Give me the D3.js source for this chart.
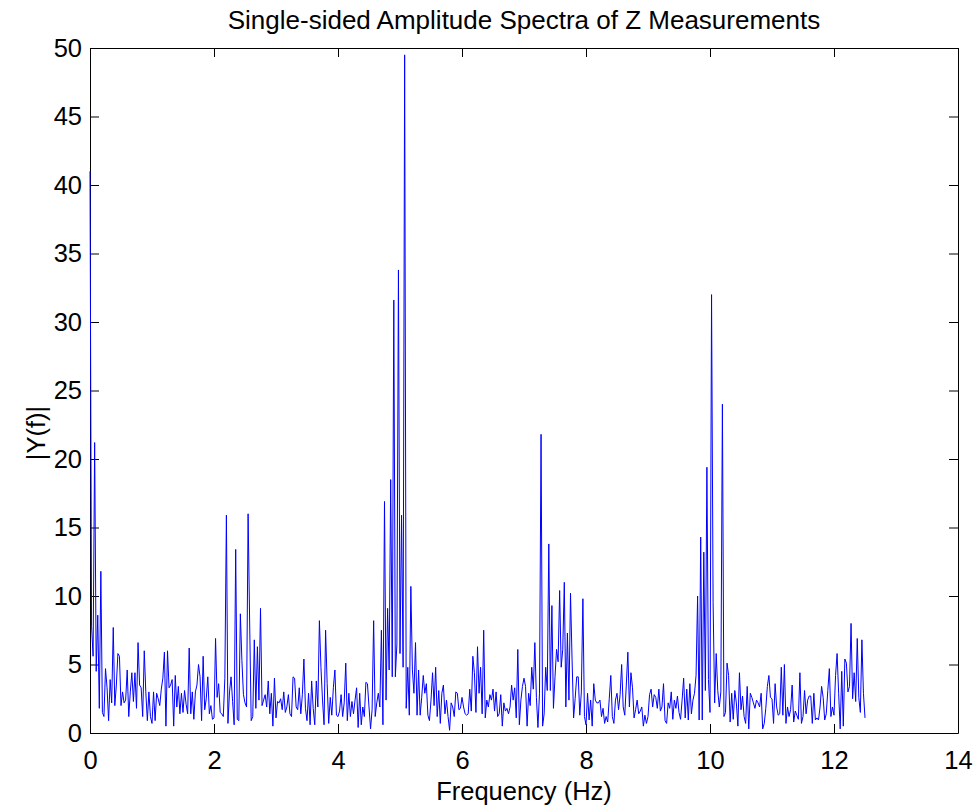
<!DOCTYPE html>
<head>
	<title>Single-sided Amplitude Spectra</title>
	<meta charset="utf-8"/>
	<style>
		body { margin: 0; background: #ffffff; }
		text { font-family: "Liberation Sans", Arial, sans-serif; fill: #000000; }
	</style>
</head>
<body>
<div id="my_dataviz"></div>

<script src="https://d3js.org/d3.v7.min.js"></script>
<script>
    // frequency resolution of the spectrum (Hz per bin)
    var freqStep = 0.025;

    // |Y(f)|, one row per Hz
    var amplitude = [
        41.0, 7.8, 5.6, 21.2, 4.5, 8.6, 1.8, 11.8, 1.5, 1.2, 4.7, 3.3, 0.9, 3.9, 2.2, 7.7, 2.0, 3.5, 5.8, 5.6,
        2.0, 3.0, 2.2, 2.4, 4.6, 1.2, 3.0, 4.4, 2.3, 4.4, 1.8, 6.6, 3.5, 3.3, 1.2, 6.0, 3.0, 0.9, 3.0, 1.2,
        0.7, 3.0, 0.9, 2.9, 2.5, 2.0, 3.2, 4.0, 5.9, 0.5, 6.0, 3.3, 3.5, 3.9, 0.5, 4.2, 1.9, 3.4, 1.4, 2.9,
        1.5, 3.1, 2.1, 1.4, 6.2, 1.4, 3.0, 1.0, 3.0, 3.5, 5.0, 4.1, 0.9, 5.6, 1.7, 2.5, 4.1, 1.4, 2.0, 1.0,
        1.1, 6.9, 2.6, 3.6, 1.5, 1.4, 1.2, 4.0, 15.9, 0.7, 3.0, 4.1, 2.3, 0.6, 13.4, 1.0, 0.9, 8.7, 5.3, 2.8,
        2.2, 1.9, 16.0, 8.1, 0.9, 1.2, 6.8, 1.8, 6.3, 2.4, 9.1, 2.0, 2.4, 2.8, 1.9, 3.8, 1.4, 2.9, 0.5, 4.0,
        1.1, 2.3, 2.2, 2.5, 1.7, 3.0, 1.5, 1.9, 2.8, 1.4, 1.2, 4.1, 4.0, 1.9, 1.7, 3.3, 1.4, 2.8, 5.4, 1.8,
        0.9, 2.9, 0.6, 3.8, 1.8, 0.6, 3.8, 1.9, 8.2, 4.8, 2.4, 0.6, 7.5, 3.6, 0.7, 2.6, 1.3, 3.3, 4.6, 1.3,
        1.2, 1.6, 2.8, 1.2, 2.2, 5.1, 0.9, 2.9, 1.2, 2.3, 1.4, 2.4, 3.3, 0.4, 2.9, 0.6, 1.9, 1.2, 3.7, 3.6,
        1.9, 0.3, 1.7, 8.2, 1.2, 2.2, 2.9, 1.9, 7.5, 0.6, 16.9, 2.4, 9.1, 4.6, 18.5, 4.1, 31.6, 4.1, 6.5, 33.8,
        5.8, 15.9, 4.8, 49.5, 1.8, 4.8, 1.3, 10.7, 4.6, 2.9, 6.6, 1.3, 4.6, 1.3, 2.6, 4.2, 2.9, 3.6, 1.3, 0.9,
        2.4, 4.4, 2.0, 4.8, 1.2, 3.1, 0.7, 2.9, 3.5, 1.4, 2.4, 1.2, 0.2, 2.2, 1.9, 1.2, 3.0, 2.9, 1.7, 1.8,
        2.6, 1.9, 1.4, 1.3, 1.4, 3.2, 1.6, 5.6, 4.4, 1.5, 6.3, 2.9, 4.8, 1.4, 7.5, 1.1, 2.4, 1.9, 2.8, 2.4,
        3.2, 1.6, 3.0, 1.2, 1.4, 2.8, 0.5, 2.2, 1.6, 1.8, 1.4, 1.9, 3.5, 2.4, 3.3, 1.1, 6.1, 0.6, 2.4, 3.4,
        4.0, 3.4, 0.5, 2.9, 2.0, 4.8, 3.2, 6.6, 2.6, 0.4, 2.9, 21.8, 0.5, 1.4, 4.8, 3.1, 13.8, 3.1, 9.3, 1.8,
        4.1, 6.1, 5.2, 10.4, 4.8, 6.1, 11.0, 1.9, 7.3, 2.4, 10.2, 5.4, 1.1, 2.5, 4.1, 4.1, 1.3, 3.0, 9.8, 1.2,
        0.6, 2.9, 0.95, 2.4, 0.5, 3.6, 2.4, 2.2, 2.2, 2.4, 1.2, 1.8, 0.7, 1.2, 0.8, 2.5, 4.2, 1.2, 0.7, 2.4,
        2.9, 1.7, 2.8, 5.0, 1.9, 1.3, 3.5, 5.9, 1.9, 4.4, 3.3, 1.1, 1.7, 2.4, 1.4, 1.6, 1.9, 0.5, 1.3, 0.7,
        1.2, 2.8, 3.2, 1.9, 2.8, 2.6, 1.8, 3.2, 1.6, 1.9, 3.6, 0.9, 0.7, 2.2, 1.8, 3.0, 1.0, 2.4, 1.8, 2.7,
        1.5, 1.0, 2.4, 4.0, 1.1, 3.2, 0.95, 3.6, 1.4, 2.4, 2.9, 4.2, 10.0, 0.95, 14.3, 0.95, 13.2, 3.1, 19.4, 3.9,
        1.5, 32.0, 9.5, 2.2, 5.8, 3.1, 1.9, 3.0, 24.0, 1.2, 1.5, 5.1, 4.2, 0.8, 2.9, 1.0, 3.1, 2.2, 0.5, 4.4,
        1.7, 2.7, 1.2, 0.7, 3.4, 0.3, 2.9, 2.6, 2.2, 1.8, 2.4, 2.2, 1.9, 2.9, 0.3, 0.7, 1.8, 3.4, 4.2, 2.6,
        2.5, 0.7, 3.6, 1.9, 1.3, 1.4, 4.8, 1.3, 5.0, 0.7, 1.9, 1.2, 1.7, 3.5, 0.8, 1.6, 1.3, 1.0, 4.4, 0.7,
        1.2, 3.1, 1.4, 2.4, 2.7, 2.7, 0.7, 2.9, 0.95, 1.1, 0.95, 1.9, 3.4, 2.6, 0.95, 1.4, 3.1, 4.7, 1.2, 1.9,
        1.3, 4.2, 5.8, 2.9, 0.3, 4.5, 0.5, 5.4, 5.1, 3.0, 3.4, 8.0, 2.5, 4.4, 2.3, 6.9, 2.6, 1.5, 6.8, 2.9,
        1.1
    ];

    var xTicks = [0, 2, 4, 6, 8, 10, 12, 14];
    var yTicks = [0, 5, 10, 15, 20, 25, 30, 35, 40, 45, 50];

    var titleText = "Single-sided Amplitude Spectra of Z Measurements";
    var xLabel = "Frequency (Hz)";
    var yLabel = "|Y(f)|";

    var margin = {top: 48, right: 19, bottom: 79, left: 90},
        width = 977 - margin.left - margin.right,
        height = 812 - margin.top - margin.bottom;

    var fontSize = "25.5px";

    var root = d3.select("#my_dataviz")
        .append("svg")
        .attr("width", 977)
        .attr("height", 812);

    root.append("rect")
        .attr("width", 977)
        .attr("height", 812)
        .attr("fill", "#ffffff");

    var svg = root.append("g")
        .attr("transform", "translate(" + margin.left + "," + margin.top + ")");

    var x = d3.scaleLinear()
        .domain([0, 14])
        .range([0, width]);

    var y = d3.scaleLinear()
        .domain([0, 50])
        .range([height, 0]);

    // axes, ticks pointing inward on all four sides
    var tickLen = 9;

    svg.append("g")
        .attr("transform", "translate(0," + height + ")")
        .call(d3.axisBottom(x).tickValues(xTicks).tickSizeInner(-tickLen).tickSizeOuter(0).tickPadding(18));

    svg.append("g")
        .call(d3.axisLeft(y).tickValues(yTicks).tickSizeInner(-tickLen).tickSizeOuter(0).tickPadding(8));

    svg.append("g")
        .call(d3.axisTop(x).tickValues(xTicks).tickSizeInner(-tickLen).tickSizeOuter(0).tickFormat(""));

    svg.append("g")
        .attr("transform", "translate(" + width + ",0)")
        .call(d3.axisRight(y).tickValues(yTicks).tickSizeInner(-tickLen).tickSizeOuter(0).tickFormat(""));

    svg.selectAll(".domain").attr("stroke", "#000000").attr("stroke-width", 1);
    svg.selectAll(".tick line").attr("stroke", "#000000").attr("stroke-width", 1);
    svg.selectAll(".tick text")
        .style("font-family", "'Liberation Sans', Arial, sans-serif")
        .style("font-size", fontSize)
        .attr("fill", "#000000");

    // spectrum line, drawn over the axes like the original
    var line = d3.line()
        .x(function(d, i) { return x(i * freqStep); })
        .y(function(d) { return y(d); });

    svg.append("path")
        .datum(amplitude)
        .attr("fill", "none")
        .attr("stroke", "#0000ff")
        .attr("stroke-width", 1)
        .attr("d", line);

    // title and labels
    root.append("text")
        .attr("x", margin.left + width / 2)
        .attr("y", 29)
        .attr("text-anchor", "middle")
        .style("font-size", "26px")
        .text(titleText);

    root.append("text")
        .attr("x", margin.left + width / 2)
        .attr("y", 800)
        .attr("text-anchor", "middle")
        .style("font-size", fontSize)
        .text(xLabel);

    root.append("text")
        .attr("transform", "translate(45,433)rotate(-90)")
        .attr("text-anchor", "middle")
        .style("font-size", fontSize)
        .text(yLabel);
</script>
</body>
